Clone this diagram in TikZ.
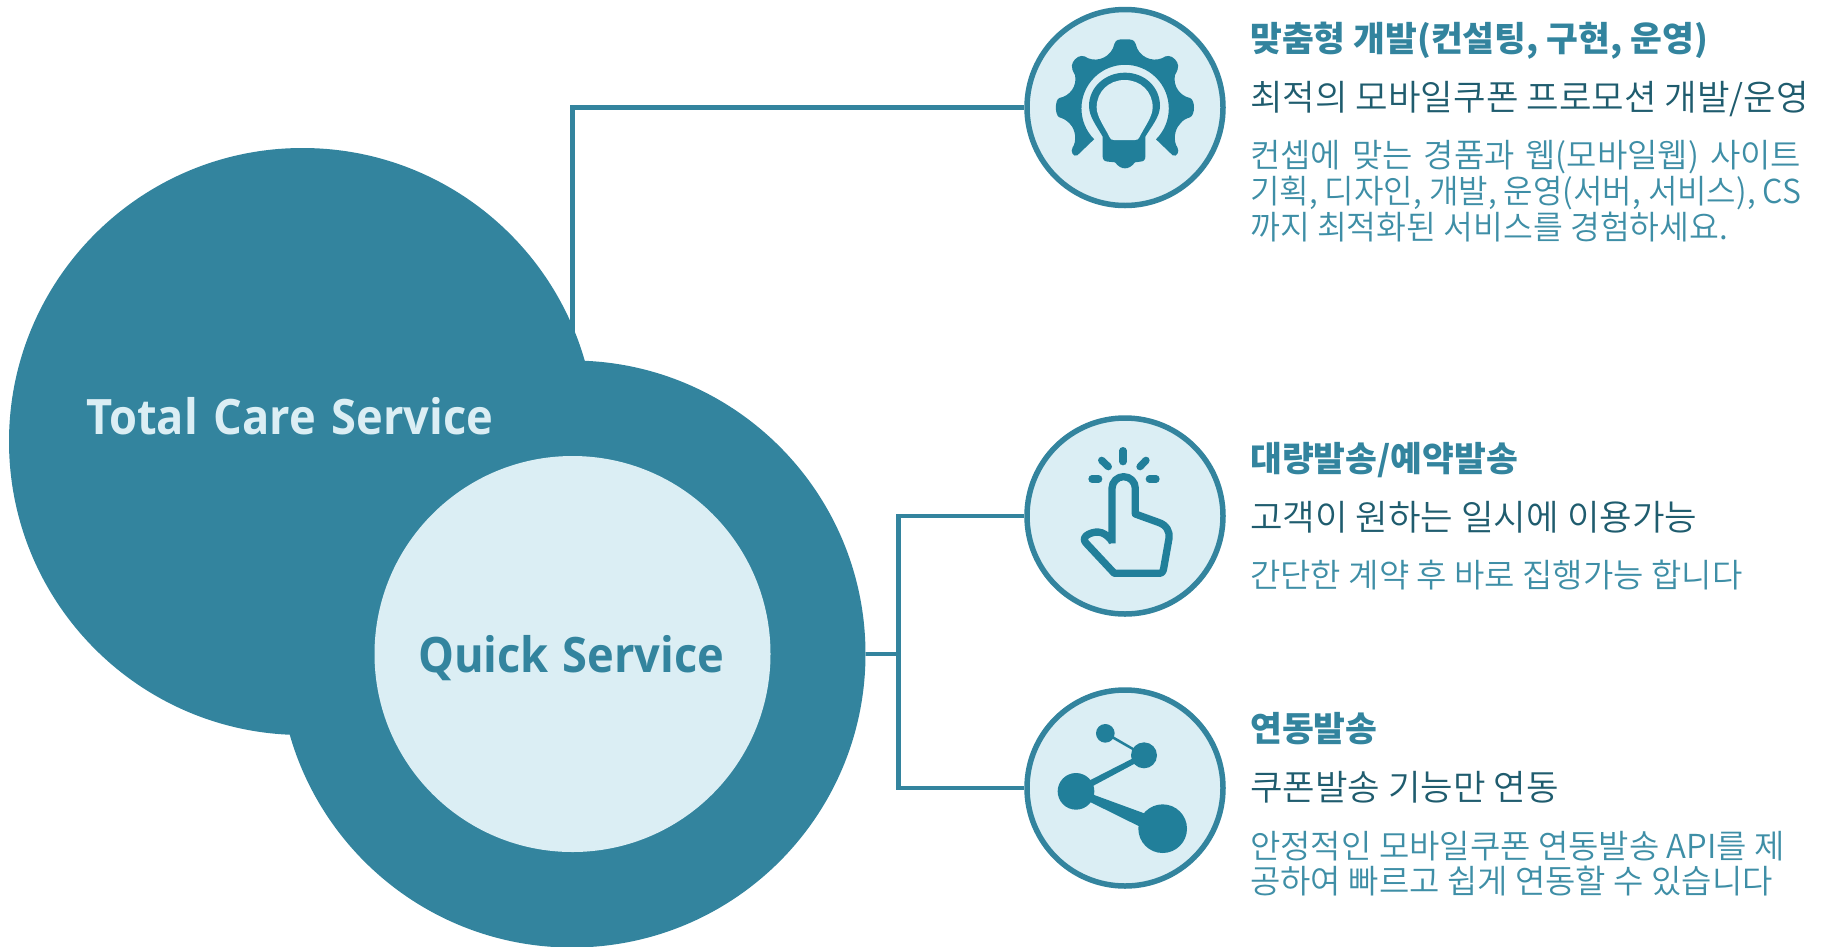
\documentclass[tikz,border=0pt]{standalone}
\usepackage{fontspec}
\setmainfont{Noto Sans CJK KR}
\newfontfamily\lite{Noto Sans CJK KR DemiLight}
\newfontfamily\latinbold{Open Sans}[BoldFont={Open Sans Bold}]
\definecolor{teal}{HTML}{33849E}
\definecolor{ico}{HTML}{217F9A}
\definecolor{pale}{HTML}{DBEEF4}
\definecolor{dark}{HTML}{1F5C6E}
\definecolor{bodytext}{HTML}{3E8EA6}
\newcommand{\spreadto}[2]{\makebox[#1][s]{#2}}
\newcommand{\squeezeto}[2]{\resizebox{#1}{\height}{#2}}
\newcommand{\tallword}[1]{\scalebox{1}[1.08]{#1}}
\tikzset{
 bigdisc/.style={circle,fill=teal,inner sep=0,minimum size=587},
 innerdisc/.style={circle,fill=pale,inner sep=0,minimum size=396},
 badge/.style={circle,draw=teal,fill=pale,line width=5.5,inner sep=0,minimum size=196},
 link/.style={draw=teal,line width=4.5},
 head/.style={anchor=base west,inner sep=0,font=\fontsize{34.6}{38}\selectfont\bfseries,text=teal},
 sub/.style={anchor=base west,inner sep=0,font=\fontsize{35.4}{38}\lite\selectfont,text=dark},
 txt/.style={anchor=base west,inner sep=0,font=\fontsize{33}{36}\lite\selectfont,text=bodytext},
 bigtext/.style={anchor=base west,inner sep=0,font=\fontsize{45.2}{50}\latinbold\bfseries\selectfont},
 icon/.style={shift={#1},x=0.33333pt,y=-0.33333pt},
 ray/.style={draw=ico,line width=7.3,line cap=round},
}
\begin{document}
\begin{tikzpicture}[x=1pt,y=-1pt]
\useasboundingbox (0,0) rectangle (1825,946);
\coordinate (jt) at (572.5,335);
\coordinate (j1) at (572.5,107.5);
\coordinate (j2) at (898.5,516);
\coordinate (j3) at (898.5,788);
\coordinate (j0) at (898.5,654);
\node[bigdisc] (tc) at (302.5,441.5) {};
\node[bigdisc] (qc) at (572,654) {};
\node[innerdisc] (qi) at (572.5,654) {};
\node[badge] (b1) at (1125,107.5) {};
\node[badge] (b2) at (1125,516) {};
\node[badge] (b3) at (1125,788) {};
\draw[link] (jt) -- (j1) -- (b1.west);
\draw[link] (qc.east) -- (j0);
\draw[link] (b2.west) -- (j2) -- (j3) -- (b3.west);
\node[bigtext,text=pale] (t1) at (86,434.5) {\tallword{\spreadto{407pt}{Total Care Service}}};
\node[bigtext,text=teal] (t2) at (418,672.5) {\tallword{\spreadto{306pt}{Quick Service}}};
% gear and bulb
\begin{scope}[icon={(1020,0)}]
\fill[ico] (222,418) -- (172,466) .. controls (160,472) and (150,455) .. (158,442)
 .. controls (170,425) and (168,390) .. (150,372) .. controls (140,360) and (128,355) .. (118,352)
 .. controls (104,345) and (104,300) .. (118,294) .. controls (150,288) and (172,258) .. (165,225)
 .. controls (150,200) and (155,190) .. (165,178) .. controls (178,165) and (190,165) .. (205,175)
 .. controls (235,187) and (275,170) .. (283,132) .. controls (288,118) and (295,118) .. (315,118)
 .. controls (335,118) and (342,118) .. (347,132) .. controls (355,170) and (395,187) .. (425,175)
 .. controls (440,165) and (452,165) .. (465,178) .. controls (475,190) and (480,200) .. (465,225)
 .. controls (458,258) and (480,288) .. (510,294) .. controls (526,300) and (526,345) .. (510,352)
 .. controls (500,355) and (488,360) .. (480,372) .. controls (462,390) and (460,425) .. (472,442)
 .. controls (480,455) and (470,472) .. (458,466) -- (408,418)
 arc[start angle=45,end angle=-225,radius=131] -- cycle;
\fill[ico] (315,218) .. controls (375,218) and (420,262) .. (420,318) .. controls (420,350) and (395,378) .. (376,410)
 -- (376,470) .. controls (376,480) and (370,485) .. (360,485) -- (345,487) .. controls (335,500) and (325,505) .. (315,505)
 .. controls (305,505) and (295,500) .. (285,487) -- (265,485) .. controls (255,485) and (248,480) .. (248,470)
 -- (248,410) .. controls (230,378) and (207,350) .. (207,318) .. controls (207,262) and (255,218) .. (315,218) -- cycle;
\fill[pale] (314,240) .. controls (362,240) and (398,275) .. (398,322) .. controls (398,350) and (375,378) .. (358,412)
 .. controls (356,418) and (352,420) .. (345,420) -- (282,420) .. controls (275,420) and (271,418) .. (269,412)
 .. controls (252,378) and (230,350) .. (230,322) .. controls (230,275) and (266,240) .. (314,240) -- cycle;
\end{scope}
% pointing hand
\begin{scope}[icon={(1020,410)}]
\draw[ico,line width=7.3,line join=round] (276,400) -- (276,235) arc[start angle=180,end angle=360,radius=35]
 -- (346,312) -- (415,337) .. controls (440,345) and (450,365) .. (447,385) -- (431,475)
 .. controls (429,487) and (425,490) .. (415,490) -- (283,490) -- (197,398)
 .. controls (188,388) and (195,378) .. (205,373) .. controls (235,358) and (258,368) .. (278,396);
\draw[ray] (309,122) -- (309,155);
\draw[ray] (245,151) -- (265,170);
\draw[ray] (216,207) -- (236,207);
\draw[ray] (378,151) -- (360,170);
\draw[ray] (388,207) -- (408,207);
\end{scope}
% share graph
\begin{scope}[icon={(1020,680)}]
\fill[ico] (256,160) circle[radius=28];
\fill[ico] (372,226) circle[radius=39];
\fill[ico] (168,334) circle[radius=55];
\fill[ico] (428,446) circle[radius=73];
\fill[ico] (260,157) -- (372,222) -- (372,230) -- (256,164) -- cycle;
\fill[ico] (372,218) -- (372,236) -- (168,345) -- (168,322) -- cycle;
\fill[ico] (168,325) -- (400,410) -- (380,450) -- (168,345) -- cycle;
\end{scope}
\node[head] at (1250,51) {맞춤형 개발(컨설팅, 구현, 운영)};
\node[sub] at (1250,110) {최적의 모바일쿠폰 프로모션 개발/운영};
\node[txt] at (1250,167) {\spreadto{551pt}{컨셉에 맞는 경품과 웹(모바일웹) 사이트}};
\node[txt] at (1250,203.5) {\squeezeto{551pt}{기획, 디자인, 개발, 운영(서버, 서비스), CS}};
\node[txt] at (1250,239) {\squeezeto{478pt}{까지 최적화된 서비스를 경험하세요.}};
\node[head] at (1250,471) {대량발송/예약발송};
\node[sub] at (1250,530.5) {고객이 원하는 일시에 이용가능};
\node[txt] at (1250,587.5) {간단한 계약 후 바로 집행가능 합니다};
\node[head] at (1250,741.5) {연동발송};
\node[sub] at (1250,800) {쿠폰발송 기능만 연동};
\node[txt] at (1250,858.5) {안정적인 모바일쿠폰 연동발송 API를 제};
\node[txt] at (1250,893.5) {공하여 빠르고 쉽게 연동할 수 있습니다};
\end{tikzpicture}
\end{document}
